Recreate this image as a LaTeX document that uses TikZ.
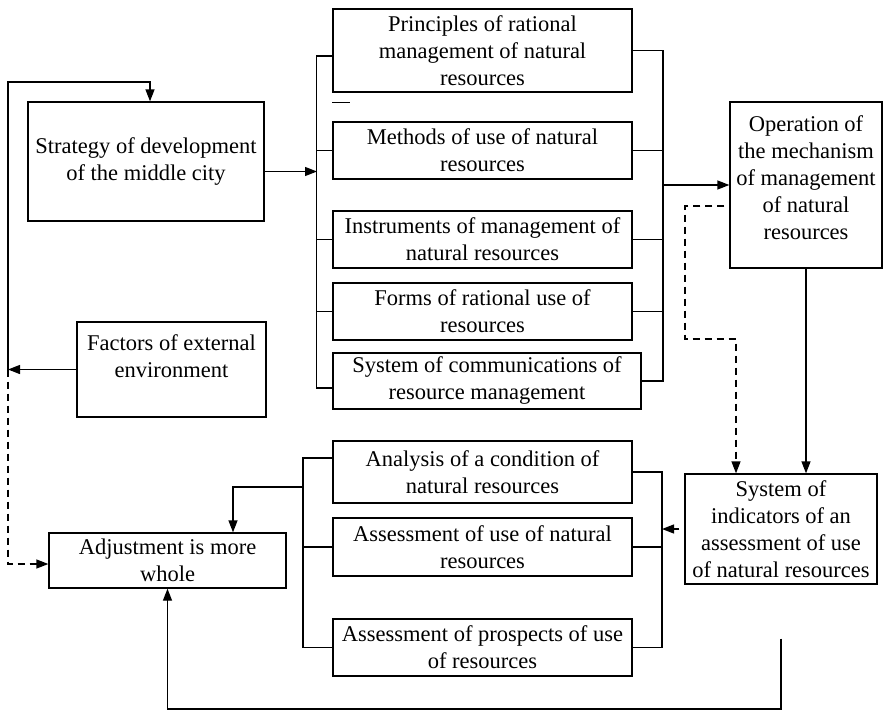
\documentclass[tikz,border=0pt]{standalone}
\usepackage{fontspec}
\setmainfont{Liberation Serif}
\usetikzlibrary{arrows.meta}

\begin{document}
\begin{tikzpicture}[x=1pt, y=-1pt, line width=1.3pt,
    box/.style={draw, align=center, inner sep=0pt, font=\fontsize{22.5}{27}\selectfont},
    arr/.style={-{Triangle[length=12pt,width=9pt]}},
    dsh/.style={dash pattern=on 7pt off 5pt}]
        \useasboundingbox (0,0) rectangle (883,712);
        % left column
        \node[box, minimum width=236, minimum height=119] (strat) at (146,161.5) {Strategy of development\\of the middle city};
        \node[box, minimum width=189, minimum height=95] (factors) at (171.5,369.5) {Factors of external\\environment\\~};
        \node[box, minimum width=237, minimum height=55] (adjust) at (167.5,560.5) {Adjustment is more\\whole};
        % upper group
        \node[box, minimum width=299, minimum height=83] (prin) at (482.5,50.5) {Principles of rational\\management of natural\\resources};
        \node[box, minimum width=299, minimum height=57] (meth) at (482.5,150.5) {Methods of use of natural\\resources};
        \node[box, minimum width=299, minimum height=57] (instr) at (482.5,239.5) {Instruments of management of\\natural resources};
        \node[box, minimum width=299, minimum height=57] (forms) at (482.5,311.5) {Forms of rational use of\\resources};
        \node[box, minimum width=308, minimum height=56] (sysc) at (487,381) {System of communications of\\resource management};
        % lower group
        \node[box, minimum width=299, minimum height=62] (anal) at (482.5,472) {Analysis of a condition of\\natural resources};
        \node[box, minimum width=299, minimum height=58] (assess) at (482.5,547) {Assessment of use of natural\\resources};
        \node[box, minimum width=299, minimum height=57] (prosp) at (482.5,647.5) {Assessment of prospects of use\\of resources};
        % right column
        \node[box, minimum width=152, minimum height=166] (oper) at (806,185) {Operation of\\the mechanism\\of management\\of natural\\resources\\[-12pt]~};
        \node[box, minimum width=192, minimum height=110] (indic) at (781,529) {System of\\indicators of an\\assessment of use\\of natural resources};
        % bracket spines
        \coordinate (tl) at (317,0);
        \coordinate (tr) at (663,0);
        \coordinate (bl) at (303,487);
        \coordinate (br) at (662,0);
        \coordinate (lp) at (8,369.5);
        % upper brackets
        \draw ([yshift=-5.5pt]prin.west) -- ++(-16,0) |- ([yshift=-7pt]sysc.west);
        \foreach \n in {meth,instr,forms}
        {
            \draw (\n.west) -- (\n.west -| tl);
        }
        \draw (prin.east) -- (prin.east -| tr) |- (sysc.east);
        \foreach \n in {meth,instr,forms}
        {
            \draw (\n.east) -- (\n.east -| tr);
        }
        \draw ([yshift=-10pt]prin.south west) -- ++(18,0);
        % lower brackets
        \draw ([yshift=14pt]anal.west) -| (bl) |- (prosp.west);
        \draw (assess.west) -- (assess.west -| bl);
        \draw (anal.east) -- (anal.east -| br) |- (prosp.east);
        \draw (assess.east) -- (assess.east -| br);
        % arrows
        \draw[arr] ([yshift=-10pt]strat.east) -- ([yshift=-10pt]strat.east -| tl);
        \draw[arr] (oper.west -| tr) -- (oper.west);
        \draw[arr] (oper.south) -- (oper.south |- indic.north);
        \draw[arr, dsh] ([xshift=-5pt,yshift=-21pt]oper.west) -| (685,339) -| ([xshift=-45pt]indic.north);
        \draw[arr] ([xshift=-5pt]indic.west) -- (indic.west -| br);
        \draw[arr] (bl) -| ([xshift=65.5pt]adjust.north);
        % feedback loop
        \draw[arr] (factors.west) -- (lp);
        \draw[arr] (lp) -- (8,82) -| ([xshift=4pt]strat.north);
        \draw[arr, dsh] (lp) |- ([yshift=-3.5pt]adjust.west);
        \draw[arr] ([yshift=-54pt]indic.south) |- (adjust.south |- 0,709) -- (adjust.south);
    \end{tikzpicture}
\end{document}
